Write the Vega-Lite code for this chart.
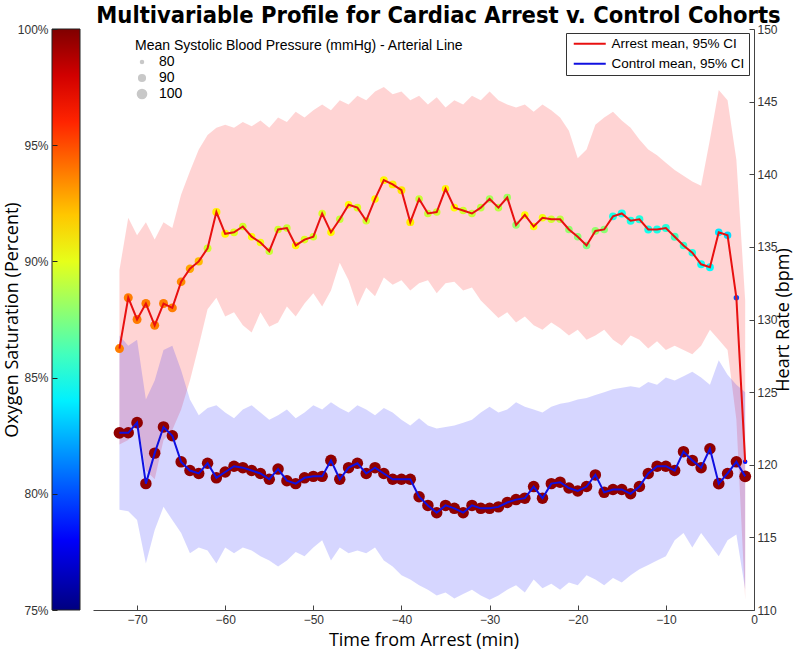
{
  "$schema": "https://vega.github.io/schema/vega-lite/v6.json",
  "width": 661,
  "height": 581,
  "autosize": {"type": "none"},
  "padding": {"left": 93, "top": 29, "right": 46, "bottom": 40},
  "background": "white",
  "title": {"text": "Multivariable Profile for Cardiac Arrest v. Control Cohorts", "font": "DejaVu Sans Condensed, DejaVu Sans", "fontSize": 23.5, "fontWeight": "bold", "color": "black", "anchor": "middle", "frame": "group", "baseline": "alphabetic", "offset": 7, "dx": 15, "dy": 30},
  "config": {
    "view": {"stroke": null},
    "axis": {"grid": false, "domainColor": "#444", "tickColor": "#444", "labelColor": "#333", "labelFont": "Liberation Sans Narrow, Liberation Sans", "labelFontSize": 12, "titleFont": "Open Sans", "titleFontSize": 18, "titleFontWeight": "normal", "titleColor": "black"}
  },
  "datasets": {
    "means": [
      {"series":"Arrest","t":-72,"hr":128.0,"o2":93.8,"bp":93},
      {"series":"Arrest","t":-71,"hr":131.5,"o2":93.8,"bp":93},
      {"series":"Arrest","t":-70,"hr":130.0,"o2":93.8,"bp":93},
      {"series":"Arrest","t":-69,"hr":131.1,"o2":93.8,"bp":93},
      {"series":"Arrest","t":-68,"hr":129.6,"o2":93.8,"bp":93},
      {"series":"Arrest","t":-67,"hr":131.1,"o2":93.8,"bp":93},
      {"series":"Arrest","t":-66,"hr":130.8,"o2":93.8,"bp":93},
      {"series":"Arrest","t":-65,"hr":132.6,"o2":93.5,"bp":92},
      {"series":"Arrest","t":-64,"hr":133.5,"o2":92.8,"bp":91},
      {"series":"Arrest","t":-63,"hr":134.0,"o2":92.3,"bp":90},
      {"series":"Arrest","t":-62,"hr":134.9,"o2":89.5,"bp":89},
      {"series":"Arrest","t":-61,"hr":137.4,"o2":91.0,"bp":90},
      {"series":"Arrest","t":-60,"hr":135.9,"o2":90.8,"bp":89},
      {"series":"Arrest","t":-59,"hr":136.0,"o2":89.8,"bp":89},
      {"series":"Arrest","t":-58,"hr":136.4,"o2":89.5,"bp":88},
      {"series":"Arrest","t":-57,"hr":135.7,"o2":90.6,"bp":88},
      {"series":"Arrest","t":-56,"hr":135.3,"o2":90.3,"bp":88},
      {"series":"Arrest","t":-55,"hr":134.7,"o2":89.3,"bp":88},
      {"series":"Arrest","t":-54,"hr":136.2,"o2":89.5,"bp":88},
      {"series":"Arrest","t":-53,"hr":136.3,"o2":89.3,"bp":88},
      {"series":"Arrest","t":-52,"hr":135.1,"o2":90.8,"bp":88},
      {"series":"Arrest","t":-51,"hr":135.5,"o2":89.8,"bp":88},
      {"series":"Arrest","t":-50,"hr":135.7,"o2":89.5,"bp":88},
      {"series":"Arrest","t":-49,"hr":137.3,"o2":89.8,"bp":88},
      {"series":"Arrest","t":-48,"hr":136.0,"o2":90.8,"bp":88},
      {"series":"Arrest","t":-47,"hr":136.9,"o2":89.3,"bp":88},
      {"series":"Arrest","t":-46,"hr":137.9,"o2":90.6,"bp":88},
      {"series":"Arrest","t":-45,"hr":137.7,"o2":89.8,"bp":88},
      {"series":"Arrest","t":-44,"hr":136.8,"o2":89.5,"bp":88},
      {"series":"Arrest","t":-43,"hr":138.3,"o2":90.6,"bp":88},
      {"series":"Arrest","t":-42,"hr":139.6,"o2":90.8,"bp":89},
      {"series":"Arrest","t":-41,"hr":139.3,"o2":91.0,"bp":89},
      {"series":"Arrest","t":-40,"hr":138.9,"o2":91.2,"bp":89},
      {"series":"Arrest","t":-39,"hr":136.7,"o2":91.0,"bp":89},
      {"series":"Arrest","t":-38,"hr":138.3,"o2":89.3,"bp":88},
      {"series":"Arrest","t":-37,"hr":137.3,"o2":89.3,"bp":88},
      {"series":"Arrest","t":-36,"hr":137.4,"o2":89.5,"bp":88},
      {"series":"Arrest","t":-35,"hr":139.0,"o2":90.8,"bp":88},
      {"series":"Arrest","t":-34,"hr":137.7,"o2":90.6,"bp":88},
      {"series":"Arrest","t":-33,"hr":137.5,"o2":89.5,"bp":88},
      {"series":"Arrest","t":-32,"hr":137.3,"o2":89.3,"bp":88},
      {"series":"Arrest","t":-31,"hr":137.7,"o2":89.0,"bp":88},
      {"series":"Arrest","t":-30,"hr":138.3,"o2":88.5,"bp":88},
      {"series":"Arrest","t":-29,"hr":137.7,"o2":89.0,"bp":88},
      {"series":"Arrest","t":-28,"hr":138.4,"o2":88.3,"bp":88},
      {"series":"Arrest","t":-27,"hr":136.5,"o2":88.0,"bp":88},
      {"series":"Arrest","t":-26,"hr":137.2,"o2":90.6,"bp":88},
      {"series":"Arrest","t":-25,"hr":136.4,"o2":90.6,"bp":88},
      {"series":"Arrest","t":-24,"hr":137.0,"o2":90.3,"bp":88},
      {"series":"Arrest","t":-23,"hr":136.9,"o2":89.5,"bp":88},
      {"series":"Arrest","t":-22,"hr":136.9,"o2":89.0,"bp":88},
      {"series":"Arrest","t":-21,"hr":136.2,"o2":88.0,"bp":88},
      {"series":"Arrest","t":-20,"hr":135.7,"o2":87.8,"bp":88},
      {"series":"Arrest","t":-19,"hr":135.1,"o2":87.5,"bp":88},
      {"series":"Arrest","t":-18,"hr":136.1,"o2":88.0,"bp":88},
      {"series":"Arrest","t":-17,"hr":136.2,"o2":87.8,"bp":88},
      {"series":"Arrest","t":-16,"hr":137.1,"o2":85.0,"bp":89},
      {"series":"Arrest","t":-15,"hr":137.3,"o2":84.8,"bp":90},
      {"series":"Arrest","t":-14,"hr":136.8,"o2":85.0,"bp":89},
      {"series":"Arrest","t":-13,"hr":136.9,"o2":85.2,"bp":89},
      {"series":"Arrest","t":-12,"hr":136.2,"o2":84.8,"bp":89},
      {"series":"Arrest","t":-11,"hr":136.2,"o2":85.0,"bp":89},
      {"series":"Arrest","t":-10,"hr":136.3,"o2":85.3,"bp":89},
      {"series":"Arrest","t":-9,"hr":135.7,"o2":86.0,"bp":89},
      {"series":"Arrest","t":-8,"hr":135.1,"o2":85.5,"bp":88},
      {"series":"Arrest","t":-7,"hr":134.6,"o2":85.0,"bp":88},
      {"series":"Arrest","t":-6,"hr":133.8,"o2":84.6,"bp":89},
      {"series":"Arrest","t":-5,"hr":133.6,"o2":84.3,"bp":89},
      {"series":"Arrest","t":-4,"hr":136.0,"o2":83.8,"bp":88},
      {"series":"Arrest","t":-3,"hr":135.8,"o2":83.5,"bp":88},
      {"series":"Arrest","t":-2,"hr":131.5,"o2":80.0,"bp":82},
      {"series":"Arrest","t":-1,"hr":120.2,"o2":78.5,"bp":80},
      {"series":"Control","t":-72,"hr":122.2,"o2":99.6,"bp":105},
      {"series":"Control","t":-71,"hr":122.2,"o2":99.6,"bp":104},
      {"series":"Control","t":-70,"hr":122.9,"o2":99.6,"bp":105},
      {"series":"Control","t":-69,"hr":118.7,"o2":99.6,"bp":104},
      {"series":"Control","t":-68,"hr":120.8,"o2":99.6,"bp":104},
      {"series":"Control","t":-67,"hr":122.6,"o2":99.6,"bp":105},
      {"series":"Control","t":-66,"hr":122.0,"o2":99.6,"bp":104},
      {"series":"Control","t":-65,"hr":120.2,"o2":99.6,"bp":104},
      {"series":"Control","t":-64,"hr":119.6,"o2":99.6,"bp":104},
      {"series":"Control","t":-63,"hr":119.4,"o2":99.6,"bp":104},
      {"series":"Control","t":-62,"hr":120.1,"o2":99.6,"bp":104},
      {"series":"Control","t":-61,"hr":119.1,"o2":99.6,"bp":104},
      {"series":"Control","t":-60,"hr":119.5,"o2":99.6,"bp":104},
      {"series":"Control","t":-59,"hr":119.9,"o2":99.6,"bp":104},
      {"series":"Control","t":-58,"hr":119.8,"o2":99.6,"bp":104},
      {"series":"Control","t":-57,"hr":119.6,"o2":99.6,"bp":104},
      {"series":"Control","t":-56,"hr":119.4,"o2":99.6,"bp":104},
      {"series":"Control","t":-55,"hr":119.0,"o2":99.6,"bp":104},
      {"series":"Control","t":-54,"hr":119.7,"o2":99.6,"bp":104},
      {"series":"Control","t":-53,"hr":118.9,"o2":99.6,"bp":104},
      {"series":"Control","t":-52,"hr":118.7,"o2":99.6,"bp":104},
      {"series":"Control","t":-51,"hr":119.1,"o2":99.6,"bp":104},
      {"series":"Control","t":-50,"hr":119.2,"o2":99.6,"bp":104},
      {"series":"Control","t":-49,"hr":119.2,"o2":99.6,"bp":104},
      {"series":"Control","t":-48,"hr":120.3,"o2":99.6,"bp":105},
      {"series":"Control","t":-47,"hr":119.0,"o2":99.6,"bp":104},
      {"series":"Control","t":-46,"hr":119.8,"o2":99.6,"bp":104},
      {"series":"Control","t":-45,"hr":120.1,"o2":99.6,"bp":104},
      {"series":"Control","t":-44,"hr":119.4,"o2":99.6,"bp":104},
      {"series":"Control","t":-43,"hr":119.8,"o2":99.6,"bp":104},
      {"series":"Control","t":-42,"hr":119.4,"o2":99.6,"bp":104},
      {"series":"Control","t":-41,"hr":119.0,"o2":99.6,"bp":104},
      {"series":"Control","t":-40,"hr":119.0,"o2":99.6,"bp":104},
      {"series":"Control","t":-39,"hr":119.0,"o2":99.6,"bp":104},
      {"series":"Control","t":-38,"hr":117.8,"o2":99.6,"bp":104},
      {"series":"Control","t":-37,"hr":117.2,"o2":99.6,"bp":104},
      {"series":"Control","t":-36,"hr":116.7,"o2":99.6,"bp":104},
      {"series":"Control","t":-35,"hr":117.2,"o2":99.6,"bp":104},
      {"series":"Control","t":-34,"hr":117.0,"o2":99.6,"bp":104},
      {"series":"Control","t":-33,"hr":116.7,"o2":99.6,"bp":104},
      {"series":"Control","t":-32,"hr":117.2,"o2":99.6,"bp":104},
      {"series":"Control","t":-31,"hr":117.0,"o2":99.6,"bp":104},
      {"series":"Control","t":-30,"hr":117.0,"o2":99.6,"bp":104},
      {"series":"Control","t":-29,"hr":117.1,"o2":99.6,"bp":104},
      {"series":"Control","t":-28,"hr":117.4,"o2":99.6,"bp":104},
      {"series":"Control","t":-27,"hr":117.6,"o2":99.6,"bp":104},
      {"series":"Control","t":-26,"hr":117.7,"o2":99.6,"bp":104},
      {"series":"Control","t":-25,"hr":118.5,"o2":99.6,"bp":105},
      {"series":"Control","t":-24,"hr":117.7,"o2":99.6,"bp":104},
      {"series":"Control","t":-23,"hr":118.7,"o2":99.6,"bp":104},
      {"series":"Control","t":-22,"hr":118.8,"o2":99.6,"bp":104},
      {"series":"Control","t":-21,"hr":118.4,"o2":99.6,"bp":104},
      {"series":"Control","t":-20,"hr":118.2,"o2":99.6,"bp":104},
      {"series":"Control","t":-19,"hr":118.5,"o2":99.6,"bp":104},
      {"series":"Control","t":-18,"hr":119.3,"o2":99.6,"bp":104},
      {"series":"Control","t":-17,"hr":118.1,"o2":99.6,"bp":104},
      {"series":"Control","t":-16,"hr":118.3,"o2":99.6,"bp":104},
      {"series":"Control","t":-15,"hr":118.3,"o2":99.6,"bp":104},
      {"series":"Control","t":-14,"hr":118.0,"o2":99.6,"bp":104},
      {"series":"Control","t":-13,"hr":118.5,"o2":99.6,"bp":104},
      {"series":"Control","t":-12,"hr":119.4,"o2":99.6,"bp":104},
      {"series":"Control","t":-11,"hr":119.9,"o2":99.6,"bp":104},
      {"series":"Control","t":-10,"hr":119.9,"o2":99.6,"bp":104},
      {"series":"Control","t":-9,"hr":119.6,"o2":99.6,"bp":104},
      {"series":"Control","t":-8,"hr":120.9,"o2":99.6,"bp":104},
      {"series":"Control","t":-7,"hr":120.3,"o2":99.6,"bp":104},
      {"series":"Control","t":-6,"hr":119.8,"o2":99.6,"bp":104},
      {"series":"Control","t":-5,"hr":121.1,"o2":99.6,"bp":104},
      {"series":"Control","t":-4,"hr":118.7,"o2":99.6,"bp":105},
      {"series":"Control","t":-3,"hr":119.4,"o2":99.6,"bp":104},
      {"series":"Control","t":-2,"hr":120.2,"o2":99.6,"bp":104},
      {"series":"Control","t":-1,"hr":119.2,"o2":99.6,"bp":106}
    ],
    "bands": [
      {"t":-72,"alo":121.4,"ahi":133.4,"clo":116.9,"chi":128.9},
      {"t":-71,"alo":121.7,"ahi":137.0,"clo":116.8,"chi":128.2},
      {"t":-70,"alo":123.1,"ahi":135.8,"clo":116.2,"chi":128.6},
      {"t":-69,"alo":119.6,"ahi":136.7,"clo":113.2,"chi":124.5},
      {"t":-68,"alo":119.0,"ahi":135.5,"clo":115.5,"chi":125.8},
      {"t":-67,"alo":121.7,"ahi":136.7,"clo":117.1,"chi":127.9},
      {"t":-66,"alo":122.4,"ahi":136.3,"clo":116.2,"chi":128.2},
      {"t":-65,"alo":123.8,"ahi":138.6,"clo":115.3,"chi":126.5},
      {"t":-64,"alo":125.8,"ahi":140.2,"clo":113.9,"chi":124.5},
      {"t":-63,"alo":128.2,"ahi":141.7,"clo":114.3,"chi":123.4},
      {"t":-62,"alo":130.7,"ahi":142.7,"clo":114.1,"chi":123.9},
      {"t":-61,"alo":131.5,"ahi":143.2,"clo":113.2,"chi":124.1},
      {"t":-60,"alo":130.2,"ahi":143.4,"clo":114.3,"chi":123.6},
      {"t":-59,"alo":130.5,"ahi":143.2,"clo":113.9,"chi":123.2},
      {"t":-58,"alo":129.6,"ahi":143.6,"clo":114.3,"chi":123.8},
      {"t":-57,"alo":129.1,"ahi":143.3,"clo":114.1,"chi":124.1},
      {"t":-56,"alo":130.5,"ahi":143.7,"clo":113.7,"chi":123.6},
      {"t":-55,"alo":129.5,"ahi":143.2,"clo":113.4,"chi":123.1},
      {"t":-54,"alo":129.8,"ahi":143.9,"clo":113.0,"chi":123.4},
      {"t":-53,"alo":130.9,"ahi":143.6,"clo":113.4,"chi":123.8},
      {"t":-52,"alo":130.2,"ahi":144.3,"clo":114.0,"chi":123.2},
      {"t":-51,"alo":131.1,"ahi":143.9,"clo":113.7,"chi":123.6},
      {"t":-50,"alo":131.8,"ahi":144.4,"clo":114.3,"chi":124.1},
      {"t":-49,"alo":130.9,"ahi":144.8,"clo":114.8,"chi":123.8},
      {"t":-48,"alo":132.0,"ahi":144.4,"clo":113.4,"chi":124.3},
      {"t":-47,"alo":133.9,"ahi":145.1,"clo":114.3,"chi":123.9},
      {"t":-46,"alo":132.7,"ahi":144.8,"clo":113.9,"chi":123.6},
      {"t":-45,"alo":130.9,"ahi":145.4,"clo":114.1,"chi":124.1},
      {"t":-44,"alo":132.2,"ahi":145.1,"clo":113.9,"chi":123.8},
      {"t":-43,"alo":131.6,"ahi":145.7,"clo":114.3,"chi":123.4},
      {"t":-42,"alo":132.9,"ahi":146.0,"clo":113.4,"chi":123.9},
      {"t":-41,"alo":132.4,"ahi":145.5,"clo":113.0,"chi":123.6},
      {"t":-40,"alo":132.7,"ahi":145.7,"clo":112.4,"chi":123.1},
      {"t":-39,"alo":132.0,"ahi":145.1,"clo":112.1,"chi":122.7},
      {"t":-38,"alo":132.5,"ahi":145.4,"clo":111.7,"chi":123.2},
      {"t":-37,"alo":132.7,"ahi":144.8,"clo":111.4,"chi":122.7},
      {"t":-36,"alo":131.8,"ahi":145.3,"clo":111.0,"chi":122.5},
      {"t":-35,"alo":132.5,"ahi":144.6,"clo":111.2,"chi":122.6},
      {"t":-34,"alo":132.6,"ahi":145.1,"clo":110.8,"chi":122.7},
      {"t":-33,"alo":132.0,"ahi":144.8,"clo":111.1,"chi":122.9},
      {"t":-32,"alo":132.2,"ahi":145.4,"clo":111.4,"chi":123.1},
      {"t":-31,"alo":131.3,"ahi":145.1,"clo":111.0,"chi":123.6},
      {"t":-30,"alo":130.7,"ahi":145.7,"clo":110.7,"chi":124.0},
      {"t":-29,"alo":130.1,"ahi":145.1,"clo":111.0,"chi":123.6},
      {"t":-28,"alo":130.5,"ahi":144.8,"clo":111.4,"chi":123.8},
      {"t":-27,"alo":129.8,"ahi":144.6,"clo":111.7,"chi":124.3},
      {"t":-26,"alo":130.2,"ahi":144.8,"clo":111.2,"chi":124.0},
      {"t":-25,"alo":129.6,"ahi":144.3,"clo":112.1,"chi":123.8},
      {"t":-24,"alo":129.3,"ahi":144.8,"clo":111.5,"chi":123.6},
      {"t":-23,"alo":129.8,"ahi":144.4,"clo":111.8,"chi":124.0},
      {"t":-22,"alo":129.4,"ahi":143.9,"clo":111.4,"chi":124.2},
      {"t":-21,"alo":128.9,"ahi":143.0,"clo":111.9,"chi":124.3},
      {"t":-20,"alo":129.3,"ahi":141.1,"clo":111.7,"chi":124.5},
      {"t":-19,"alo":128.6,"ahi":141.7,"clo":112.4,"chi":124.6},
      {"t":-18,"alo":128.9,"ahi":143.4,"clo":112.1,"chi":124.8},
      {"t":-17,"alo":129.3,"ahi":143.9,"clo":111.7,"chi":125.0},
      {"t":-16,"alo":128.6,"ahi":144.3,"clo":112.2,"chi":125.2},
      {"t":-15,"alo":128.2,"ahi":143.7,"clo":111.9,"chi":125.3},
      {"t":-14,"alo":128.9,"ahi":143.2,"clo":112.4,"chi":125.4},
      {"t":-13,"alo":128.6,"ahi":142.4,"clo":112.8,"chi":125.3},
      {"t":-12,"alo":128.0,"ahi":141.7,"clo":113.1,"chi":125.7},
      {"t":-11,"alo":128.5,"ahi":141.3,"clo":113.4,"chi":125.5},
      {"t":-10,"alo":127.9,"ahi":140.8,"clo":113.7,"chi":126.0},
      {"t":-9,"alo":128.2,"ahi":140.3,"clo":114.8,"chi":125.8},
      {"t":-8,"alo":127.9,"ahi":139.9,"clo":115.3,"chi":126.1},
      {"t":-7,"alo":127.6,"ahi":139.5,"clo":114.3,"chi":126.4},
      {"t":-6,"alo":128.2,"ahi":139.2,"clo":115.3,"chi":126.0},
      {"t":-5,"alo":129.3,"ahi":142.4,"clo":114.5,"chi":125.5},
      {"t":-4,"alo":128.6,"ahi":145.8,"clo":113.7,"chi":127.2},
      {"t":-3,"alo":127.9,"ahi":145.1,"clo":114.8,"chi":126.2},
      {"t":-2,"alo":123.1,"ahi":141.0,"clo":115.2,"chi":125.5},
      {"t":-1,"alo":110.7,"ahi":131.3,"clo":111.4,"chi":125.0}
    ]
  },
  "encoding": {
    "x": {"field": "t", "type": "quantitative", "scale": {"domain": [-75, 0], "nice": false, "zero": false},
      "axis": {"orient": "bottom", "values": [-70, -60, -50, -40, -30, -20, -10, 0], "format": "d", "tickSize": -5, "labelPadding": 9, "labelFlush": false, "title": "Time from Arrest (min)", "titleX": 330.5, "titleY": 30, "titleAlign": "center", "titleBaseline": "middle"}}
  },
  "layer": [
    {
      "data": {"name": "bands"},
      "mark": {"type": "area", "color": "#ff0000", "opacity": 0.17},
      "encoding": {
        "y": {"field": "alo", "type": "quantitative", "scale": {"domain": [110, 150], "nice": false, "zero": false},
          "axis": {"orient": "right", "values": [110, 115, 120, 125, 130, 135, 140, 145, 150], "tickSize": -5, "labelPadding": 8, "labelFlush": false, "title": "Heart Rate (bpm)", "titleX": 29, "titleY": 290.5, "titleAngle": -90, "titleAlign": "center", "titleBaseline": "middle"}},
        "y2": {"field": "ahi"}
      }
    },
    {
      "data": {"name": "bands"},
      "mark": {"type": "area", "color": "#0000ff", "opacity": 0.16},
      "encoding": {
        "y": {"field": "clo", "type": "quantitative", "axis": null},
        "y2": {"field": "chi"}
      }
    },
    {
      "data": {"name": "means"},
      "mark": {"type": "circle", "opacity": 1},
      "encoding": {
        "y": {"field": "hr", "type": "quantitative",
          "axis": {"orient": "left", "offset": 41, "values": [110, 118, 126, 134, 142, 150], "labelExpr": "(75 + (datum.value - 110) * 0.625) + '%'", "labelFontSize": 12, "labelColor": "#333", "labelPadding": 9, "labelFlush": false, "ticks": true, "tickSize": -5, "tickColor": "#222", "domain": false, "zindex": 1, "title": "Oxygen Saturation (Percent)", "titleX": -40, "titleY": 290.5, "titleAngle": -90, "titleAlign": "center", "titleBaseline": "middle"}},
        "color": {"field": "o2", "type": "quantitative",
          "scale": {"type": "linear", "domain": [75, 78.125, 84.375, 90.625, 96.875, 100], "range": ["#000080", "#0000ff", "#00ffff", "#ffff00", "#ff0000", "#800000"], "interpolate": "rgb"},
          "legend": {"orient": "none", "legendX": -41, "legendY": 0, "direction": "vertical", "gradientLength": 581, "gradientThickness": 28, "labelExpr": "''", "title": null, "gradientStrokeColor": "#222", "gradientStrokeWidth": 1, "padding": 0}},
        "size": {"field": "bp", "type": "quantitative",
          "scale": {"domain": [80, 100], "range": [20, 113], "zero": false},
          "legend": {"orient": "none", "legendX": 42, "legendY": 10, "title": "Mean Systolic Blood Pressure (mmHg) - Arterial Line", "titleLimit": 600, "titleFont": "Liberation Sans", "titleFontSize": 14, "titleFontWeight": "normal", "titleColor": "black", "titlePadding": 2, "values": [80, 90, 100], "symbolFillColor": "#c8c8c8", "symbolStrokeColor": "#c8c8c8", "symbolStrokeWidth": 0, "symbolOpacity": 1, "labelFont": "Liberation Sans", "labelFontSize": 14, "labelColor": "black", "labelOffset": 10, "rowPadding": 2, "padding": 0}}
      }
    },
    {
      "data": {"name": "means"},
      "mark": {"type": "line", "strokeWidth": 2},
      "encoding": {
        "y": {"field": "hr", "type": "quantitative", "axis": null},
        "stroke": {"field": "series", "type": "nominal",
          "scale": {"domain": ["Arrest", "Control"], "range": ["#e81010", "#1010e0"]},
          "legend": {"orient": "none", "legendX": 473, "legendY": 4, "title": null, "strokeColor": "#333", "fillColor": "white", "padding": 4, "symbolType": "M-0.6,0H5.8", "symbolSize": 100, "symbolStrokeWidth": 2, "labelFont": "Liberation Sans", "labelFontSize": 13.5, "labelColor": "black", "labelOffset": 28, "rowPadding": 5, "labelExpr": "(datum.label == 'Arrest' ? 'Arrest mean, 95% CI' : 'Control mean, 95% CI') + '\u00a0\u00a0\u00a0'"}}
      }
    }
  ],
  "resolve": {"axis": {"y": "independent"}}
}
